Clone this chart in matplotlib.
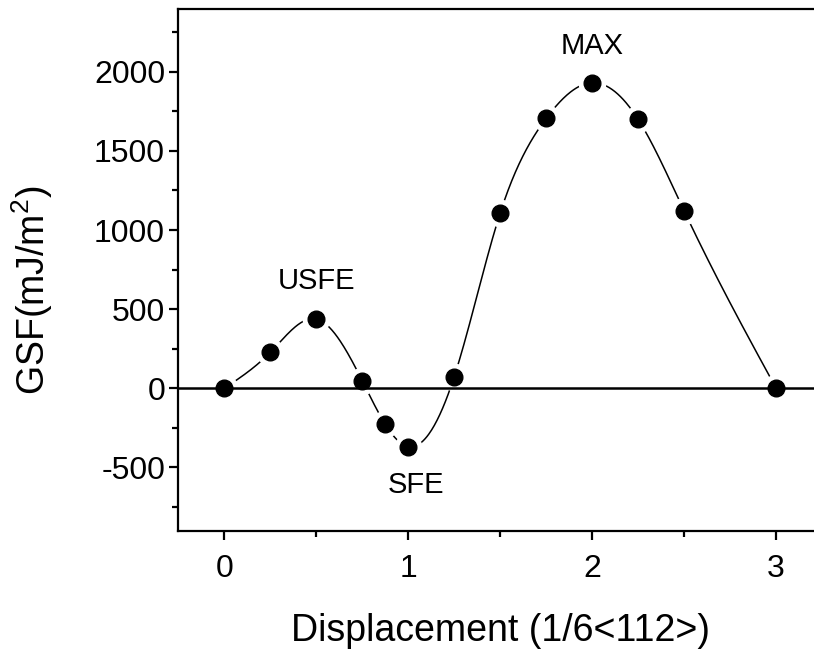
import numpy as np
import matplotlib
matplotlib.use("Agg")
import matplotlib.pyplot as plt

plt.rcParams['font.family'] = ['Liberation Sans', 'DejaVu Sans']
plt.rcParams['mathtext.fontset'] = 'custom'
plt.rcParams['mathtext.rm'] = 'Liberation Sans'
plt.rcParams['mathtext.it'] = 'Liberation Sans'
plt.rcParams['axes.unicode_minus'] = False

# Data
displacement = [0, 0.25, 0.5, 0.75, 0.875, 1.0, 1.25, 1.5, 1.75, 2.0, 2.25, 2.5, 3.0]
gsf = [0, 227, 438, 48, -227, -369, 73, 1108, 1706, 1931, 1699, 1121, 0]
labels = ["USFE", "SFE", "MAX"]
label_x = [0.5, 1.04, 2.0]
label_y = [678, -611, 2162]


def natural_spline(x, y, n=600):
    x = np.asarray(x, float)
    y = np.asarray(y, float)
    m = len(x)
    h = np.diff(x)
    A = np.zeros((m, m))
    b = np.zeros(m)
    A[0, 0] = 1
    A[-1, -1] = 1
    for i in range(1, m - 1):
        A[i, i - 1] = h[i - 1]
        A[i, i] = 2 * (h[i - 1] + h[i])
        A[i, i + 1] = h[i]
        b[i] = 6 * ((y[i + 1] - y[i]) / h[i] - (y[i] - y[i - 1]) / h[i - 1])
    M = np.linalg.solve(A, b)
    xs = np.linspace(x[0], x[-1], n)
    idx = np.clip(np.searchsorted(x, xs) - 1, 0, m - 2)
    x0, x1 = x[idx], x[idx + 1]
    hh = x1 - x0
    a = (x1 - xs) / hh
    bb = (xs - x0) / hh
    ys = (a * y[idx] + bb * y[idx + 1]
          + ((a ** 3 - a) * M[idx] + (bb ** 3 - bb) * M[idx + 1]) * hh ** 2 / 6)
    return xs, ys


fig = plt.figure(figsize=(8.14, 6.56), dpi=100)
ax = fig.add_axes([0.219, 0.191, 0.791, 0.796])

xs, ys = natural_spline(displacement, gsf)
ax.plot(xs, ys, color='black', lw=1.1, zorder=1)
ax.plot(displacement, gsf, ls='none', marker='o', ms=19, mfc='white', mec='white', zorder=2)
ax.axhline(0, color='black', lw=1.8, zorder=3)
ax.plot(displacement, gsf, ls='none', marker='o', ms=12, mfc='black', mec='black', zorder=4)

for t, lx, ly in zip(labels, label_x, label_y):
    ax.text(lx, ly, t, ha='center', va='center', fontsize=21)

ax.set_xlim(-0.25, 3.25)
ax.set_ylim(-900, 2400)
ax.set_xticks([0, 1, 2, 3])
ax.set_xticks([0.5, 1.5, 2.5], minor=True)
ax.set_yticks([-500, 0, 500, 1000, 1500, 2000])
ax.set_yticks([-750, -250, 250, 750, 1250, 1750, 2250], minor=True)
ax.tick_params(axis='both', which='major', direction='out', length=6.5, width=1.6,
               labelsize=23)
ax.tick_params(axis='x', which='major', pad=10.5)
ax.tick_params(axis='y', which='major', pad=3)
ax.tick_params(axis='both', which='minor', direction='out', length=4.3, width=1.6)
ax.tick_params(top=False, right=False, which='both')
for s in ['left', 'bottom', 'top']:
    ax.spines[s].set_linewidth(1.6)
ax.spines['right'].set_visible(False)

ax.set_xlabel('Displacement (1/6<112>)', fontsize=27, labelpad=21)
ax.set_ylabel('GSF(mJ/m$^{2}$)', fontsize=27)
# place y label centre at about (32 px, 290 px from top)
ax.yaxis.set_label_coords((32 - 178.3) / (0.791 * 814), (530.7 - 290) / (0.796 * 656))
ax.yaxis.label.set_verticalalignment('center')

fig.savefig('out.png', dpi=100)
